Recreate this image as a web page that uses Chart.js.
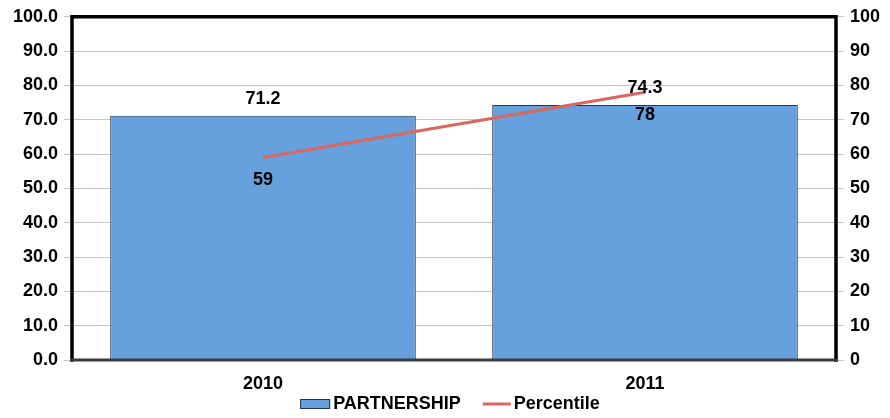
<!DOCTYPE html>
<html>
<head>
<meta charset="utf-8">
<script src="https://cdn.jsdelivr.net/npm/chart.js@4/dist/chart.umd.min.js"></script>
<style>
  html, body { margin: 0; padding: 0; background: #fff; }
  #wrap { width: 890px; height: 418px; }
</style>
</head>
<body>
<div id="wrap"><canvas id="grafico"></canvas></div>
<script>
// data
const years = ['2010', '2011'];
const partnership = [71.2, 74.3];
const percentile = [59, 78];

const FONT = "'Liberation Sans', Arial, sans-serif";
const BAR_COLOR = '#66a1dd';
const BAR_EDGE = '#1f3350';
const LINE_COLOR = '#d9675e';

// borders around the plot area
const frame = {
  id: 'frame',
  afterDraw(chart) {
    const a = chart.chartArea, c = chart.ctx;
    c.save();
    c.lineCap = 'square';
    c.strokeStyle = '#000';
    c.lineWidth = 3.5;
    c.beginPath();
    c.moveTo(a.left, a.bottom); c.lineTo(a.left, a.top);
    c.lineTo(a.right, a.top); c.lineTo(a.right, a.bottom);
    c.stroke();
    c.strokeStyle = '#3c3c3c';
    c.lineWidth = 3;
    c.beginPath();
    c.moveTo(a.left, a.bottom); c.lineTo(a.right, a.bottom);
    c.stroke();
    c.restore();
  }
};

// value labels
const valueLabels = {
  id: 'valueLabels',
  afterDraw(chart) {
    const c = chart.ctx;
    c.save();
    c.font = 'bold 18px ' + FONT;
    c.fillStyle = '#000';
    c.textAlign = 'center';
    c.textBaseline = 'middle';
    chart.getDatasetMeta(0).data.forEach((b, i) => {
      c.fillText(partnership[i].toFixed(1), b.x, b.y - 17);
    });
    chart.getDatasetMeta(1).data.forEach((p, i) => {
      c.fillText(String(percentile[i]), p.x, p.y + 23);
    });
    c.restore();
  }
};

// legend under the axis
const bottomLegend = {
  id: 'bottomLegend',
  afterDraw(chart) {
    const c = chart.ctx;
    const names = chart.data.datasets.map(d => d.label);
    c.save();
    c.font = 'bold 18px ' + FONT;
    c.textBaseline = 'middle';
    c.fillStyle = '#000';
    const w0 = c.measureText(names[0]).width, w1 = c.measureText(names[1]).width;
    const total = 30 + 3 + w0 + 22 + 28 + 3 + w1;
    let x = 450 - total / 2;
    const y = 404;
    c.fillStyle = BAR_COLOR;
    c.fillRect(x, y - 5, 30, 10);
    c.strokeStyle = BAR_EDGE;
    c.lineWidth = 1;
    c.strokeRect(x + 0.5, y - 4.5, 29, 9);
    x += 33;
    c.fillStyle = '#000';
    c.fillText(names[0], x, y);
    x += w0 + 22;
    c.strokeStyle = LINE_COLOR;
    c.lineWidth = 3;
    c.beginPath(); c.moveTo(x, y); c.lineTo(x + 28, y); c.stroke();
    x += 31;
    c.fillText(names[1], x, y);
    c.restore();
  }
};

const config = {
  type: 'bar',
  data: {
    labels: years,
    datasets: [
      {
        type: 'bar',
        label: 'PARTNERSHIP',
        data: partnership,
        backgroundColor: BAR_COLOR,
        borderColor: BAR_EDGE,
        borderWidth: 1,
        categoryPercentage: 0.8,
        barPercentage: 1.0,
        yAxisID: 'y',
        order: 2
      },
      {
        type: 'line',
        label: 'Percentile',
        data: percentile,
        borderColor: LINE_COLOR,
        backgroundColor: LINE_COLOR,
        borderWidth: 3,
        pointRadius: 0,
        yAxisID: 'y1',
        order: 1
      }
    ]
  },
  options: {
    responsive: true,
    maintainAspectRatio: false,
    animation: false,
    layout: { padding: { top: 13, bottom: 0, left: 0, right: 0 } },
    scales: {
      x: {
        grid: { display: false, drawTicks: false },
        border: { display: false },
        ticks: { color: '#000', padding: 13, font: { family: FONT, size: 18, weight: 'bold' } },
        afterFit: s => { s.height = 58; }
      },
      y: {
        position: 'left',
        min: 0, max: 100,
        ticks: {
          stepSize: 10, color: '#000', padding: 6,
          font: { family: FONT, size: 18, weight: 'bold' },
          callback: v => v.toFixed(1)
        },
        grid: { color: '#c4c4c4', lineWidth: 1, tickLength: 8 },
        border: { display: false },
        afterFit: s => { s.width = 72; }
      },
      y1: {
        position: 'right',
        min: 0, max: 100,
        ticks: {
          stepSize: 10, color: '#000', padding: 6,
          font: { family: FONT, size: 18, weight: 'bold' }
        },
        grid: { drawOnChartArea: false, color: '#c4c4c4', tickLength: 8 },
        border: { display: false },
        afterFit: s => { s.width = 54; }
      }
    },
    plugins: {
      tooltip: { enabled: false },
      legend: { display: false }
    }
  },
  plugins: [frame, valueLabels, bottomLegend]
};

const meuGrafico = new Chart(document.getElementById('grafico'), config);
</script>
</body>
</html>
